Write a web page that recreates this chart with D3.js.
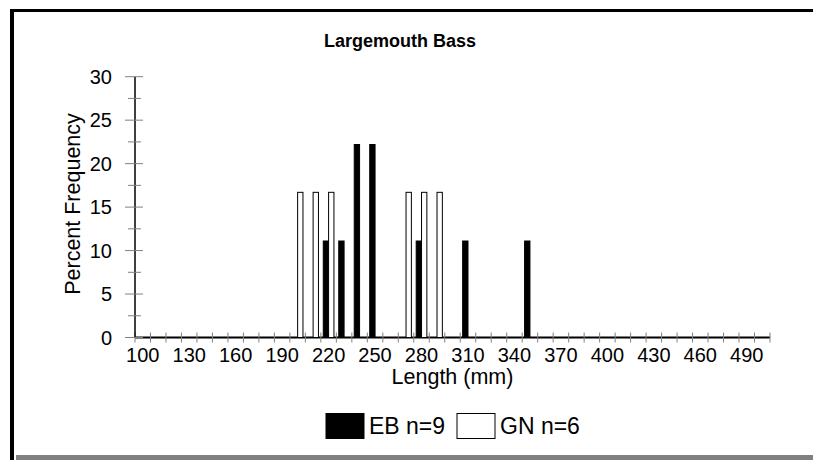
<!DOCTYPE html>
<html>
<head>
<meta charset="utf-8">
<script src="https://cdn.jsdelivr.net/npm/d3@7"></script>
<style>
  html, body { margin: 0; padding: 0; background: #fff; }
  svg { display: block; }
  text { font-family: Arial, "Liberation Sans", sans-serif; fill: #000; }
</style>
</head>
<body>
<svg id="chart" width="813" height="460"></svg>
<script>
// ---- data ----
const title = "Largemouth Bass";
const xTitle = "Length (mm)";
const yTitle = "Percent Frequency";
const categories = d3.range(100, 501, 10); // length bins (mm)
const tickLabels = [100, 130, 160, 190, 220, 250, 280, 310, 340, 370, 400, 430, 460, 490];
const yTicks = [0, 5, 10, 15, 20, 25, 30];
const seriesNames = ["EB n=9", "GN n=6"];
const ebBins = [220, 230, 240, 250, 280, 310, 350];
const ebValues = [11.1, 11.1, 22.2, 22.2, 11.1, 11.1, 11.1];
const gnBins = [200, 210, 220, 270, 280, 290];
const gnValues = [16.7, 16.7, 16.7, 16.7, 16.7, 16.7];

const svg = d3.select("#chart");
const gray = "#808080";

// frame
svg.append("rect").attr("x", 10).attr("y", 9).attr("width", 803).attr("height", 3).attr("fill", "#000");
svg.append("rect").attr("x", 10).attr("y", 9).attr("width", 4).attr("height", 451).attr("fill", "#000");
svg.append("rect").attr("x", 16).attr("y", 455).attr("width", 797).attr("height", 5).attr("fill", gray);

const x0 = 135, x1 = 770, yTop = 76.7, yBot = 337.5;
const x = d3.scaleBand().domain(categories).range([x0, x1]).paddingInner(0).paddingOuter(0);
const xs = d3.scaleBand().domain(seriesNames).range([0, x.bandwidth()]).paddingInner(0).paddingOuter(0.45);
const y = d3.scaleLinear().domain([0, 30]).range([yBot, yTop]);

// full series (zeros included)
const eb = categories.map(c => { const i = ebBins.indexOf(c); return i >= 0 ? ebValues[i] : 0; });
const gn = categories.map(c => { const i = gnBins.indexOf(c); return i >= 0 ? gnValues[i] : 0; });

// baseline
svg.append("line").attr("x1", x0).attr("x2", x1).attr("y1", yBot).attr("y2", yBot)
  .attr("stroke", "#000").attr("stroke-width", 2);

// bars
const g = svg.append("g");
g.selectAll("rect.eb").data(categories).join("rect").attr("class", "eb")
  .attr("x", c => x(c) + xs(seriesNames[0]))
  .attr("width", xs.bandwidth())
  .attr("y", (c, i) => y(eb[i]))
  .attr("height", (c, i) => yBot - y(eb[i]))
  .attr("fill", "#000").attr("stroke", "#000").attr("stroke-width", 1);
g.selectAll("rect.gn").data(categories).join("rect").attr("class", "gn")
  .attr("x", c => x(c) + xs(seriesNames[1]))
  .attr("width", xs.bandwidth())
  .attr("y", (c, i) => y(gn[i]))
  .attr("height", (c, i) => yBot - y(gn[i]))
  .attr("fill", "#fff").attr("stroke", "#000").attr("stroke-width", 1);

// x ticks at category boundaries
const bounds = categories.map(c => x(c)).concat([x1]);
svg.selectAll("line.xt").data(bounds).join("line").attr("class", "xt")
  .attr("x1", d => d).attr("x2", d => d).attr("y1", yBot - 5).attr("y2", yBot + 5)
  .attr("stroke", gray).attr("stroke-width", 1);

// x tick labels
svg.selectAll("text.xl").data(tickLabels).join("text").attr("class", "xl")
  .attr("x", d => x(d) + x.bandwidth() / 2).attr("y", 361.5)
  .attr("text-anchor", "middle").style("font-size", "20px").text(d => d);

// y axis
svg.append("line").attr("x1", x0).attr("x2", x0).attr("y1", yTop).attr("y2", yBot)
  .attr("stroke", "#000").attr("stroke-width", 1.5);
const minor = d3.range(2.5, 30, 5);
svg.selectAll("line.ymin").data(minor).join("line").attr("class", "ymin")
  .attr("x1", x0 - 7).attr("x2", x0 + 6).attr("y1", d => y(d)).attr("y2", d => y(d))
  .attr("stroke", gray).attr("stroke-width", 1);
svg.selectAll("line.ymaj").data(yTicks).join("line").attr("class", "ymaj")
  .attr("x1", x0 - 10).attr("x2", x0 + 8).attr("y1", d => y(d)).attr("y2", d => y(d))
  .attr("stroke", gray).attr("stroke-width", 1);
svg.selectAll("text.yl").data(yTicks).join("text").attr("class", "yl")
  .attr("x", 112).attr("y", d => y(d)).attr("dy", "0.36em")
  .attr("text-anchor", "end").style("font-size", "20px").text(d => d);

// titles
svg.append("text").attr("x", 400).attr("y", 47).attr("text-anchor", "middle")
  .style("font-size", "18px").style("font-weight", "bold").text(title);
svg.append("text").attr("x", (x0 + x1) / 2).attr("y", 383.5).attr("text-anchor", "middle")
  .style("font-size", "21.5px").text(xTitle);
svg.append("text").attr("transform", "translate(80,204) rotate(-90)").attr("text-anchor", "middle")
  .style("font-size", "21.5px").text(yTitle);

// legend
const leg = svg.append("g");
const legItems = [
  { name: seriesNames[0], fill: "#000", bx: 326, tx: 369 },
  { name: seriesNames[1], fill: "#fff", bx: 457, tx: 500 }
];
leg.selectAll("rect").data(legItems).join("rect")
  .attr("x", d => d.bx).attr("y", 413.5).attr("width", 38).attr("height", 25)
  .attr("fill", d => d.fill).attr("stroke", "#000").attr("stroke-width", 1);
leg.selectAll("text").data(legItems).join("text")
  .attr("x", d => d.tx).attr("y", 434).style("font-size", "23px").text(d => d.name);
</script>
</body>
</html>
